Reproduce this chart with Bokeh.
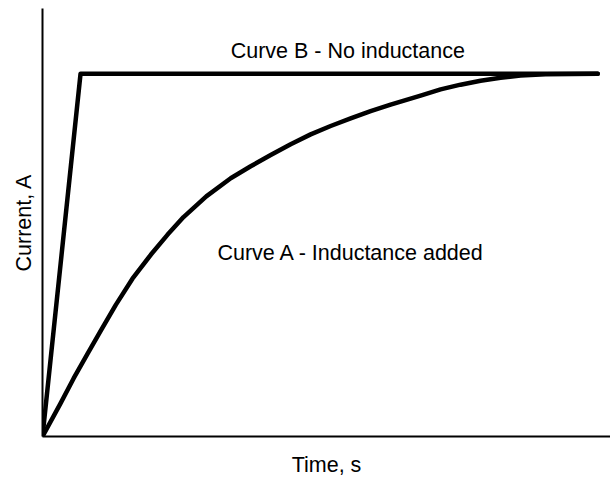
from bokeh.plotting import figure
from bokeh.models import Label, FixedTicker, Range1d
from bokeh.embed import file_html
from bokeh.resources import INLINE

# Curve A - inductance added (time, current)
time_a = [0.0, 0.32, 0.56, 0.81, 1.05, 1.32, 1.62, 1.95, 2.25, 2.54, 2.95, 3.39, 3.75,
          4.11, 4.47, 4.83, 5.19, 5.55, 5.91, 6.27, 6.81, 7.17, 7.53, 7.89, 8.25, 8.61, 9.06, 10.0]
current_a = [0.0, 0.090, 0.160, 0.228, 0.292, 0.363, 0.435, 0.501, 0.556, 0.605, 0.662,
             0.712, 0.745, 0.776, 0.806, 0.833, 0.856, 0.877, 0.897, 0.915, 0.940, 0.957, 0.970,
             0.981, 0.989, 0.995, 0.999, 1.0]

# Curve B - no inductance
time_b = [0.0, 0.685, 10.0]
current_b = [0.0, 1.0, 1.0]

label_a = "Curve A - Inductance added"
label_b = "Curve B - No inductance"
x_title = "Time, s"
y_title = "Current, A"

FONT = "Liberation Sans"
FS = "21.5px"

p = figure(width=610, height=479, output_backend="svg", toolbar_location=None,
           x_range=Range1d(0, 10.23), y_range=Range1d(0, 1.180),
           min_border_left=42, min_border_right=0, min_border_top=8, min_border_bottom=42)
p.outline_line_color = None
p.xgrid.visible = False
p.ygrid.visible = False
p.background_fill_color = "white"

for ax in (p.xaxis[0], p.yaxis[0]):
    ax.ticker = FixedTicker(ticks=[])
    ax.major_tick_line_color = None
    ax.minor_tick_line_color = None
    ax.major_label_text_font_size = "0px"
    ax.axis_line_color = "black"
    ax.axis_line_width = 2
    ax.axis_label_text_font = FONT
    ax.axis_label_text_font_size = FS
    ax.axis_label_text_font_style = "normal"
    ax.axis_label_text_color = "black"

p.xaxis.axis_label = x_title
p.yaxis.axis_label = y_title
p.xaxis.axis_label_standoff = 16
p.yaxis.axis_label_standoff = 7

p.line(time_b, current_b, line_color="black", line_width=4.5, line_join="round", line_cap="round")
p.line(time_a, current_a, line_color="black", line_width=4.5, line_join="round", line_cap="round")

p.add_layout(Label(x=3.39, y=1.062, text=label_b, text_font=FONT, text_font_size=FS,
                   text_color="black", text_baseline="alphabetic"))
p.add_layout(Label(x=3.15, y=0.506, text=label_a, text_font=FONT, text_font_size=FS,
                   text_color="black", text_baseline="alphabetic"))

open("out.html", "w").write(file_html(p, INLINE))
